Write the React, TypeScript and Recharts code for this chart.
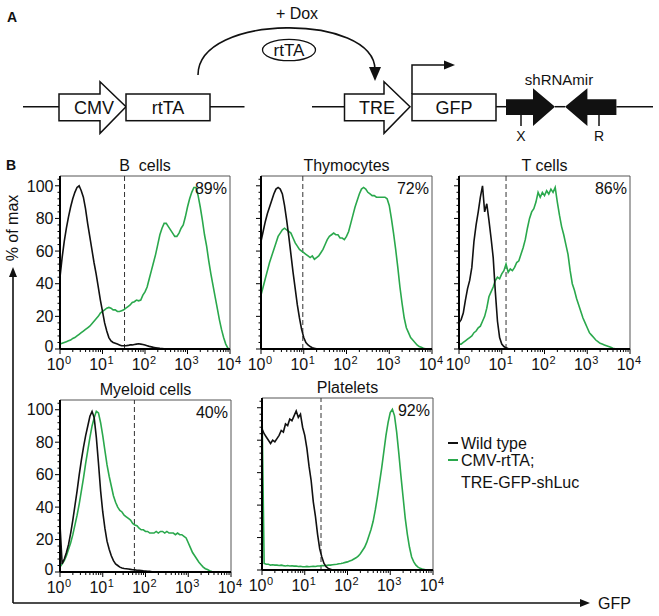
import React from 'react';
import { LineChart, Line, XAxis, YAxis, ReferenceLine } from 'recharts';

// GFP intensity grid (log-spaced, 20 steps per decade)
const GFP_GRID = [
  1, 1.122, 1.259, 1.413, 1.585, 1.778, 1.995, 2.239, 2.512, 2.818, 3.162, 3.548, 3.981, 4.467, 5.012, 5.623, 6.31, 7.079, 7.943, 8.913,
  10, 11.22, 12.59, 14.13, 15.85, 17.78, 19.95, 22.39, 25.12, 28.18, 31.62, 35.48, 39.81, 44.67, 50.12, 56.23, 63.1, 70.79, 79.43, 89.13,
  100, 112.2, 125.9, 141.3, 158.5, 177.8, 199.5, 223.9, 251.2, 281.8, 316.2, 354.8, 398.1, 446.7, 501.2, 562.3, 631, 707.9, 794.3, 891.3,
  1000, 1122, 1259, 1413, 1585, 1778, 1995, 2239, 2512, 2818, 3162, 3548, 3981, 4467, 5012, 5623, 6310, 7079, 7943, 8913, 10000,
];

// % of max, Wild type (black) and CMV-rtTA;TRE-GFP-shLuc (green)
const B_WT = [
  44, 56, 66, 74, 81, 87, 92, 96, 99, 100, 97, 93, 86, 77, 69, 61, 53, 46, 38, 30,
  23, 16, 11, 7, 5, 4, 3.5, 3, 2.5, 2, 2, 2, 2.2, 2.5, 2.5, 2.8, 3, 3.2, 3, 2.8,
  2.4, 2, 1.6, 1.3, 1, 0.8, 0.6, 0.4, 0.3, 0.2, 0.1, 0, 0, 0, 0, 0, 0, 0, 0, 0,
  0, 0, 0, 0, 0, 0, 0, 0, 0, 0, 0, 0, 0, 0, 0, 0, 0, 0, 0, 0, 0,
];
const B_TG = [
  3, 3.5, 4, 4.5, 5, 5.5, 6.5, 7, 8, 9, 10, 11, 12, 13, 14, 15.5, 17, 18.5, 20, 22,
  23, 24, 25, 25.5, 25, 24, 24, 23, 23, 23.5, 24, 25, 26, 27, 28.5, 29, 30, 29.5, 30, 33,
  35, 38, 43, 48, 53, 58, 64, 70, 74, 77, 77, 75, 73, 71, 69, 69, 71, 74, 76, 81,
  87, 92, 96, 99, 99, 94, 87, 79, 70, 63, 54, 46, 39, 32, 25, 18, 12, 7, 3, 0.5, 0,
];
const TH_WT = [
  66, 72, 78, 83, 87, 91, 95, 98, 99, 98, 95, 88, 79, 69, 58, 47, 37, 27, 19, 12,
  7, 4, 2.5, 1.5, 0.8, 0.4, 0.2, 0, 0, 0, 0, 0, 0, 0, 0, 0, 0, 0, 0, 0,
  0, 0, 0, 0, 0, 0, 0, 0, 0, 0, 0, 0, 0, 0, 0, 0, 0, 0, 0, 0,
  0, 0, 0, 0, 0, 0, 0, 0, 0, 0, 0, 0, 0, 0, 0, 0, 0, 0, 0, 0, 0,
];
const TH_TG = [
  33, 38, 43, 48, 53, 57, 61, 65, 69, 71, 73, 74, 73, 72, 71, 68, 65, 63, 61, 60,
  59, 58, 57, 56, 57, 55, 56, 57, 59, 61, 64, 67, 69, 70, 71, 70, 70, 68, 68, 67,
  69, 72, 77, 82, 87, 91, 95, 98, 99, 98, 96, 95, 94, 94, 93, 93, 93, 93, 93, 92,
  88, 80, 71, 61, 50, 38, 28, 19, 13, 10, 7, 5.5, 4, 2.5, 1.5, 1, 0.5, 0.2, 0, 0, 0,
];
const T_WT = [
  16, 18, 22, 30, 37, 42, 50, 66, 76, 84, 93, 100, 84, 89, 79, 68, 56, 35, 17, 7,
  3, 1.5, 0.7, 0.3, 0, 0, 0, 0, 0, 0, 0, 0, 0, 0, 0, 0, 0, 0, 0, 0,
  0, 0, 0, 0, 0, 0, 0, 0, 0, 0, 0, 0, 0, 0, 0, 0, 0, 0, 0, 0,
  0, 0, 0, 0, 0, 0, 0, 0, 0, 0, 0, 0, 0, 0, 0, 0, 0, 0, 0, 0, 0,
];
const T_TG = [
  3, 3, 4, 5, 6, 7, 8, 10, 11, 13, 14, 17, 20, 25, 32, 35, 38, 42, 44, 43,
  46, 48, 52, 47, 49, 48, 50, 53, 54, 58, 62, 67, 74, 80, 84, 86, 90, 96, 93, 96,
  94, 97, 95, 98, 96, 99, 90, 82, 75, 70, 64, 58, 48, 40, 36, 31, 27, 23, 19, 16,
  13, 10, 8.5, 7, 5.5, 4.5, 3.5, 3, 2.5, 2, 1.5, 1, 0.5, 0.2, 0, 0, 0, 0, 0, 0, 0,
];
const MY_WT = [
  29, 5, 8, 12, 17, 24, 32, 41, 50, 60, 69, 77, 84, 90, 96, 99, 95, 83, 67, 50,
  37, 27, 19, 14, 10, 7, 5, 4, 3, 2.5, 2.2, 2, 1.8, 1.6, 1.4, 1.3, 1.1, 1, 0.9, 0.7,
  0.6, 0.5, 0.4, 0.2, 0, 0, 0, 0, 0, 0, 0, 0, 0, 0, 0, 0, 0, 0, 0, 0,
  0, 0, 0, 0, 0, 0, 0, 0, 0, 0, 0, 0, 0, 0, 0, 0, 0, 0, 0, 0, 0,
];
const MY_TG = [
  3, 5, 7, 10, 14, 18, 23, 29, 35, 42, 50, 58, 67, 75, 83, 90, 95, 99, 98, 92,
  84, 75, 66, 59, 53, 47, 43, 40, 38, 37, 35, 34, 33, 32, 30, 29, 28.5, 27, 26, 26,
  25, 25, 24, 24, 24, 25, 24, 25, 25, 24, 25, 24, 24, 24, 23, 24, 23, 23, 22, 21,
  18, 15, 12, 10, 8, 6, 4.5, 3, 2, 1.5, 0.8, 0.3, 0, 0, 0, 0, 0, 0, 0, 0, 0,
];
const PL_WT = [
  87, 84, 82, 80, 78, 80, 79, 81, 83, 86, 85, 90, 89, 93, 92, 95, 98, 94, 96, 88,
  83, 75, 64, 55, 42, 33, 22, 13, 8, 4, 2, 1, 0.5, 0, 0, 0, 0, 0, 0, 0,
  0, 0, 0, 0, 0, 0, 0, 0, 0, 0, 0, 0, 0, 0, 0, 0, 0, 0, 0, 0,
  0, 0, 0, 0, 0, 0, 0, 0, 0, 0, 0, 0, 0, 0, 0, 0, 0, 0, 0, 0, 0,
];
const PL_TG = [
  100, 4, 3.5, 3.5, 3, 3.2, 3, 3, 2.8, 3, 2.7, 2.5, 2.8, 2.5, 2.6, 2.4, 2.5, 2.2, 2.3, 2,
  2, 2.2, 2, 2.2, 2.3, 2.2, 2.5, 2.5, 2.7, 2.6, 2.8, 3, 3, 3.2, 3.4, 3.5, 3.8, 4, 4.3, 4.7,
  5, 5.5, 6, 6.8, 7.5, 8.5, 10, 12, 14, 17, 21, 25, 30, 37, 45, 54, 63, 73, 83, 91,
  97, 99, 95, 85, 72, 58, 45, 32, 22, 14, 8, 5, 3, 1.8, 1, 0.6, 0.3, 0, 0, 0, 0,
];

const TITLES = ['B  cells', 'Thymocytes', 'T cells', 'Myeloid cells', 'Platelets'];
const PERCENTS = ['89%', '72%', '86%', '40%', '92%'];
const GATES = [33, 9.5, 12.6, 55, 24];
const SERIES_WT = [B_WT, TH_WT, T_WT, MY_WT, PL_WT];
const SERIES_TG = [B_TG, TH_TG, T_TG, MY_TG, PL_TG];

const X_TICKS = [
  1, 2, 3, 4, 5, 6, 7, 8, 9, 10, 20, 30, 40, 50, 60, 70, 80, 90, 100, 200, 300, 400, 500, 600, 700, 800, 900,
  1000, 2000, 3000, 4000, 5000, 6000, 7000, 8000, 9000, 10000,
];
const X_MAJOR = [1, 10, 100, 1000, 10000];
const Y_TICKS = [0, 4, 8, 12, 16, 20, 24, 28, 32, 36, 40, 44, 48, 52, 56, 60, 64, 68, 72, 76, 80, 84, 88, 92, 96, 100, 104];
const Y_MAJOR = [0, 20, 40, 60, 80, 100];

// layout (pixels), separate from data
const LAYOUT = [
  { left: 60, top: 176, w: 170, h: 173, yLabels: true },
  { left: 261, top: 176, w: 171, h: 173, yLabels: false },
  { left: 459, top: 176, w: 171, h: 173, yLabels: false },
  { left: 60, top: 400, w: 171, h: 172, yLabels: true },
  { left: 262, top: 398, w: 171, h: 172, yLabels: false },
];

const FONT = '"Liberation Sans", Arial, Helvetica, sans-serif';
const GREEN = '#2aa84c';
const AXW = 45;
const MT = 2;
const MR = 16;
const XH = 30;

const XTick = (props: any) => {
  const { x, y, payload } = props;
  const v = payload.value;
  const major = X_MAJOR.includes(v);
  return (
    <g>
      <line x1={x} y1={y} x2={x} y2={y + (major ? 5 : 3)} stroke="#000" strokeWidth={1} />
      {major && (
        <>
          <text x={x + 4.5} y={y + 21} textAnchor="end" fontFamily={FONT} fontSize={16} fill="#111">
            10
          </text>
          <text x={x + 5} y={y + 14.5} textAnchor="start" fontFamily={FONT} fontSize={11} fill="#111">
            {Math.round(Math.log10(v))}
          </text>
        </>
      )}
    </g>
  );
};

const YTick = (props: any) => {
  const { x, y, payload, showLabels } = props;
  const v = payload.value;
  const major = Y_MAJOR.includes(v);
  return (
    <g>
      <line x1={x} y1={y} x2={x - (major ? 5 : 2.5)} y2={y} stroke="#000" strokeWidth={1} />
      {major && showLabels && (
        <text x={x - 6.5} y={y} dy={v === 0 ? '0.18em' : '0.36em'} textAnchor="end" fontFamily={FONT} fontSize={16} fill="#111">
          {v}
        </text>
      )}
    </g>
  );
};

function Panel({ idx }: { idx: number }) {
  const L = LAYOUT[idx];
  const wt = SERIES_WT[idx];
  const tg = SERIES_TG[idx];
  const data = GFP_GRID.map((g, i) => ({ gfp: g, wt: wt[i], tg: tg[i] }));
  const width = AXW + L.w + MR;
  const height = MT + L.h + XH;
  return (
    <div style={{ position: 'absolute', left: L.left - AXW, top: L.top - MT, width, height }}>
      <LineChart width={width} height={height} data={data} margin={{ top: MT, right: MR, bottom: 0, left: 0 }}>
        <XAxis
          dataKey="gfp"
          type="number"
          scale="log"
          domain={[1, 10000]}
          allowDataOverflow
          ticks={X_TICKS}
          interval={0}
          tickSize={0}
          tickMargin={0}
          tickLine={false}
          height={XH}
          axisLine={{ stroke: '#000', strokeWidth: 2 }}
          tick={(p: any) => <XTick {...p} />}
        />
        <YAxis
          type="number"
          domain={[0, 106]}
          allowDataOverflow
          ticks={Y_TICKS}
          interval={0}
          tickSize={0}
          tickMargin={0}
          tickLine={false}
          width={AXW}
          axisLine={{ stroke: '#000', strokeWidth: 2 }}
          tick={(p: any) => <YTick {...p} showLabels={L.yLabels} />}
        />
        <ReferenceLine y={106} stroke="#555" strokeWidth={1} />
        <ReferenceLine x={10000} stroke="#555" strokeWidth={1} />
        <ReferenceLine x={GATES[idx]} stroke="#333" strokeWidth={1} strokeDasharray="5 3" />
        <Line type="linear" dataKey="tg" stroke={GREEN} strokeWidth={1.6} dot={false} isAnimationActive={false} />
        <Line type="linear" dataKey="wt" stroke="#111" strokeWidth={1.6} dot={false} isAnimationActive={false} />
      </LineChart>
    </div>
  );
}

function Overlay() {
  const lineY = 106.7;
  const boxTop = 94;
  const boxH = 26.7;
  const headTop = 81.7;
  const headBot = 133.3;
  const txtY = 113.5;
  return (
    <svg width={659} height={616} style={{ position: 'absolute', left: 0, top: 0, pointerEvents: 'none' }} fontFamily={FONT}>
      {/* Panel A */}
      <text x={7} y={22} fontSize={14} fontWeight="bold" fill="#111">A</text>
      <text x={297} y={18.5} fontSize={16} textAnchor="middle" fill="#111">+ Dox</text>
      <path d="M198,75 C198,13 375,13 375,70" fill="none" stroke="#111" strokeWidth={1.6} />
      <polygon points="369,67 381,67 375,81" fill="#111" />
      <ellipse cx={289} cy={50} rx={26.5} ry={10.7} fill="none" stroke="#111" strokeWidth={1.3} />
      <text x={289} y={56} fontSize={17} textAnchor="middle" fill="#111">rtTA</text>

      <g stroke="#111" strokeWidth={1.5}>
        <line x1={23} y1={lineY} x2={59} y2={lineY} />
        <line x1={210} y1={lineY} x2={244.5} y2={lineY} />
        <line x1={312} y1={lineY} x2={344.5} y2={lineY} />
        <line x1={496} y1={lineY} x2={506} y2={lineY} />
        <line x1={555} y1={lineY} x2={565} y2={lineY} />
        <line x1={616.4} y1={lineY} x2={653} y2={lineY} />
      </g>
      <polygon
        points={`59,${boxTop} 100,${boxTop} 100,${headTop} 126,${lineY} 100,${headBot} 100,${boxTop + boxH} 59,${boxTop + boxH}`}
        fill="#fff" stroke="#111" strokeWidth={1.5} strokeLinejoin="miter"
      />
      <text x={94} y={txtY} fontSize={18} textAnchor="middle" fill="#111">CMV</text>
      <rect x={126} y={boxTop} width={84} height={boxH} fill="#fff" stroke="#111" strokeWidth={1.5} />
      <text x={168} y={txtY} fontSize={18} textAnchor="middle" fill="#111">rtTA</text>
      <polygon
        points={`344.5,${boxTop} 384,${boxTop} 384,${headTop} 410,${lineY} 384,${headBot} 384,${boxTop + boxH} 344.5,${boxTop + boxH}`}
        fill="#fff" stroke="#111" strokeWidth={1.5}
      />
      <text x={377} y={txtY} fontSize={18} textAnchor="middle" fill="#111">TRE</text>
      <rect x={412} y={boxTop} width={84} height={boxH} fill="#fff" stroke="#111" strokeWidth={1.5} />
      <text x={454} y={txtY} fontSize={18} textAnchor="middle" fill="#111">GFP</text>
      <path d={`M412,${boxTop} V65 H445`} fill="none" stroke="#111" strokeWidth={1.5} />
      <polygon points="444,60.5 455,65 444,69.5" fill="#111" />
      <polygon points="506,99.3 533,99.3 533,88.3 555,106.7 533,126 533,115 506,115" fill="#111" />
      <polygon points="565,106.7 587.4,88.3 587.4,99.3 616.4,99.3 616.4,115 587.4,115 587.4,126" fill="#111" />
      <line x1={521} y1={115} x2={521} y2={126} stroke="#111" strokeWidth={1.5} />
      <line x1={599} y1={115} x2={599} y2={126} stroke="#111" strokeWidth={1.5} />
      <text x={559} y={85} fontSize={15} textAnchor="middle" fill="#111">shRNAmir</text>
      <text x={521} y={141} fontSize={14} textAnchor="middle" fill="#111">X</text>
      <text x={599} y={141} fontSize={14} textAnchor="middle" fill="#111">R</text>

      {/* Panel B */}
      <text x={6} y={170} fontSize={14} fontWeight="bold" fill="#111">B</text>
      {LAYOUT.map((L, i) => (
        <g key={i}>
          <text x={L.left + L.w / 2} y={L.top - 5} fontSize={16} textAnchor="middle" fill="#111" style={{ whiteSpace: 'pre' }}>
            {TITLES[i]}
          </text>
          <text x={L.left + L.w - 3} y={L.top + 18} fontSize={16} textAnchor="end" fill="#111">
            {PERCENTS[i]}
          </text>
        </g>
      ))}
      <line x1={13} y1={603} x2={13} y2={275} stroke="#111" strokeWidth={1.6} />
      <polygon points="9,277 17,277 13,267" fill="#111" />
      <line x1={13} y1={603} x2={582} y2={603} stroke="#111" strokeWidth={1.6} />
      <polygon points="580,599 580,607 590,603" fill="#111" />
      <text x={598} y={609} fontSize={16} fill="#111">GFP</text>
      <text transform="translate(18,228) rotate(-90)" fontSize={16} textAnchor="middle" fill="#111">% of max</text>

      {/* Legend */}
      <line x1={448} y1={443} x2={458} y2={443} stroke="#111" strokeWidth={2} />
      <text x={461} y={449} fontSize={16} fill="#111">Wild type</text>
      <line x1={448} y1={460} x2={458} y2={460} stroke={GREEN} strokeWidth={2} />
      <text x={461} y={466} fontSize={16} fill="#111">CMV-rtTA;</text>
      <text x={461} y={488} fontSize={16} fill="#111">TRE-GFP-shLuc</text>
    </svg>
  );
}

export default function App() {
  return (
    <div style={{ position: 'absolute', left: 0, top: 0, width: 659, height: 616, background: '#fff', fontFamily: FONT, overflow: 'hidden' }}>
      {LAYOUT.map((_, i) => (
        <Panel key={i} idx={i} />
      ))}
      <Overlay />
    </div>
  );
}
